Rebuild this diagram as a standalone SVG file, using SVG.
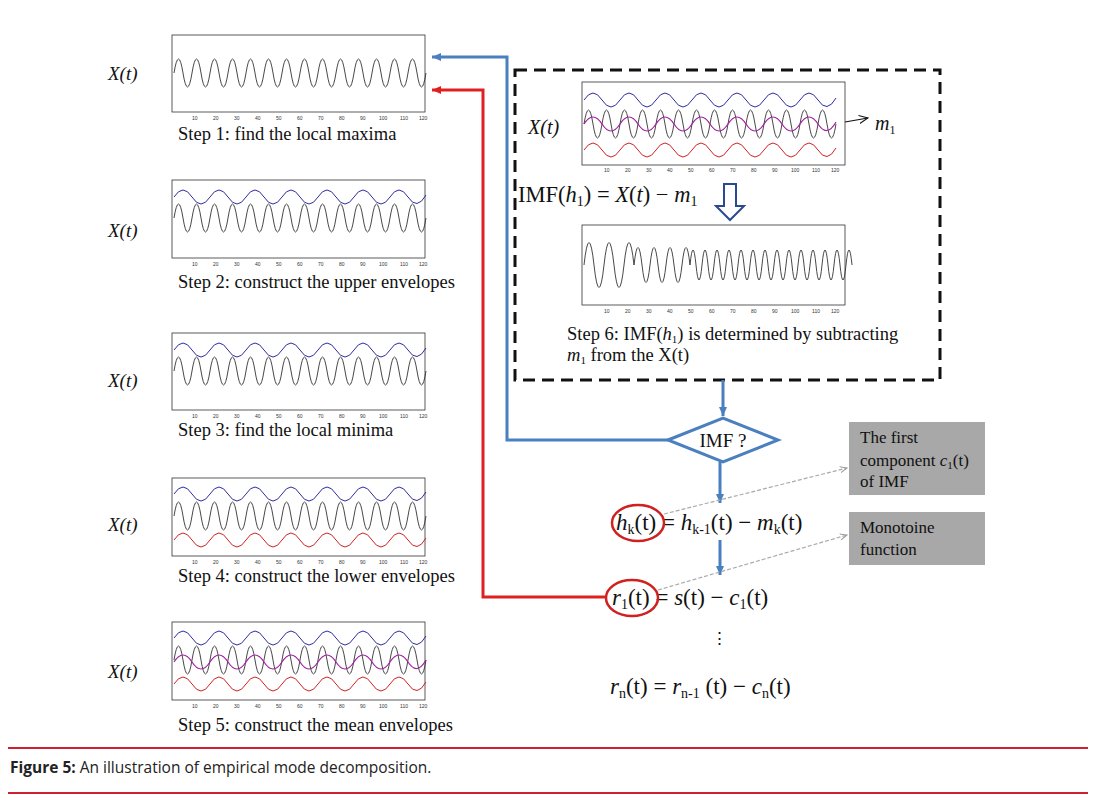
<svg xmlns="http://www.w3.org/2000/svg" width="1102" height="805" viewBox="0 0 1102 805">
<defs>
<style>
.t{font-family:"Liberation Serif",serif;fill:#111}
.s{font-family:"Liberation Sans",sans-serif;font-size:5px;fill:#333}
.box{fill:#fff;stroke:#333;stroke-width:0.8}
.w{fill:none;stroke:#333;stroke-width:0.9}
.up{fill:none;stroke:#2b2ba0;stroke-width:1}
.lo{fill:none;stroke:#d02020;stroke-width:1}
.me{fill:none;stroke:#a020a0;stroke-width:1.2}
.gb{fill:#a8a8a8}
</style>
<marker id="ab" markerWidth="10" markerHeight="10" refX="9" refY="5" orient="auto" markerUnits="userSpaceOnUse"><path d="M0,1 L9,5 L0,9 z" fill="#4a7fc0"/></marker>
<marker id="ar" markerWidth="10" markerHeight="10" refX="9" refY="5" orient="auto" markerUnits="userSpaceOnUse"><path d="M0,1 L9,5 L0,9 z" fill="#e02020"/></marker>
<marker id="ag" markerWidth="8" markerHeight="8" refX="7" refY="4" orient="auto" markerUnits="userSpaceOnUse"><path d="M0,1 L7,4 L0,7" fill="none" stroke="#999"/></marker>
<marker id="ak" markerWidth="10" markerHeight="10" refX="9" refY="5" orient="auto" markerUnits="userSpaceOnUse"><path d="M0,1 L9,5 L0,9" fill="none" stroke="#111"/></marker>
<path id="wave" d="M0,0 q4.5,-28 9,0 t9,0 t9,0 t9,0 t9,0 t9,0 t9,0 t9,0 t9,0 t9,0 t9,0 t9,0 t9,0 t9,0 t9,0 t9,0 t9,0 t9,0 t9,0 t9,0 t9,0 t9,0 t9,0 t9,0 t9,0 t9,0 t9,0 t9,0"/>
<path id="env" d="M0,0 q9,-14 18,0 t18,0 t18,0 t18,0 t18,0 t18,0 t18,0 t18,0 t18,0 t18,0 t18,0 t18,0 t18,0 t18,-2"/>
<g id="ticks"><text class="s" x="20" y="0">10</text><text class="s" x="41" y="0">20</text><text class="s" x="62" y="0">30</text><text class="s" x="83" y="0">40</text><text class="s" x="104" y="0">50</text><text class="s" x="125" y="0">60</text><text class="s" x="146" y="0">70</text><text class="s" x="167" y="0">80</text><text class="s" x="188" y="0">90</text><text class="s" x="207" y="0">100</text><text class="s" x="228" y="0">110</text><text class="s" x="247" y="0">120</text></g>
</defs>
<rect width="1102" height="805" fill="#fff"/>

<g id="step1">
<text class="t" x="108" y="80" font-size="19" font-style="italic">X(t)</text>
<rect class="box" x="172" y="35" width="253" height="77"/>
<use href="#wave" class="w" x="174" y="73"/>
<use href="#ticks" x="172" y="120"/>
<text class="t" x="178" y="140" font-size="18.5">Step 1: find the local maxima</text>
</g>
<g id="step2">
<text class="t" x="108" y="237" font-size="19" font-style="italic">X(t)</text>
<rect class="box" x="172" y="180" width="253" height="78"/>
<use href="#wave" class="w" x="174" y="218"/>
<use href="#env" class="up" x="174" y="197"/>
<use href="#ticks" x="172" y="266"/>
<text class="t" x="178" y="288" font-size="18.5">Step 2: construct the upper envelopes</text>
</g>
<g id="step3">
<text class="t" x="108" y="387" font-size="19" font-style="italic">X(t)</text>
<rect class="box" x="172" y="333" width="253" height="77"/>
<use href="#wave" class="w" x="174" y="371"/>
<use href="#env" class="up" x="174" y="350"/>
<use href="#ticks" x="172" y="418"/>
<text class="t" x="178" y="436" font-size="18.5">Step 3: find the local minima</text>
</g>
<g id="step4">
<text class="t" x="108" y="531" font-size="19" font-style="italic">X(t)</text>
<rect class="box" x="172" y="478" width="253" height="78"/>
<use href="#wave" class="w" x="174" y="516"/>
<use href="#env" class="up" x="174" y="494"/>
<use href="#env" class="lo" x="174" y="540"/>
<use href="#ticks" x="172" y="564"/>
<text class="t" x="178" y="582" font-size="18.5">Step 4: construct the lower envelopes</text>
</g>
<g id="step5">
<text class="t" x="108" y="678" font-size="19" font-style="italic">X(t)</text>
<rect class="box" x="172" y="622" width="253" height="78"/>
<use href="#wave" class="w" x="174" y="660"/>
<use href="#env" class="up" x="174" y="638"/>
<use href="#env" class="lo" x="174" y="684"/>
<use href="#env" class="me" x="174" y="662"/>
<use href="#ticks" x="172" y="708"/>
<text class="t" x="178" y="731" font-size="18.5">Step 5: construct the mean envelopes</text>
</g>

<g id="step6">
<rect x="515" y="70" width="425" height="310" fill="none" stroke="#111" stroke-width="3" stroke-dasharray="12,7"/>
<text class="t" x="528" y="134" font-size="20" font-style="italic">X(t)</text>
<rect class="box" x="582" y="82" width="263" height="83"/>
<use href="#wave" class="w" x="584" y="124"/>
<use href="#env" class="up" x="584" y="100"/>
<use href="#env" class="lo" x="584" y="150"/>
<use href="#env" class="me" x="584" y="124"/>
<use href="#ticks" x="584" y="172"/>
<text class="t" x="875" y="130" font-size="20" font-style="italic">m<tspan font-size="12" dy="4" font-style="normal">1</tspan></text>
<text class="t" x="518" y="202" font-size="22.5">IMF(<tspan font-style="italic">h</tspan><tspan font-size="14" dy="4">1</tspan><tspan dy="-4">) = </tspan><tspan font-style="italic">X</tspan>(<tspan font-style="italic">t</tspan>) − <tspan font-style="italic">m</tspan><tspan font-size="14" dy="4">1</tspan></text>
<path d="M724,184 h12 v22 h8 l-14,14 l-14,-14 h8 z" fill="#fff" stroke="#2a4a90" stroke-width="2"/>
<rect class="box" x="582" y="225" width="263" height="80"/>
<path class="w" d="M584,265 q5,-45 10,0 t10,0 t10,0 t10,0 t10,0 q4,-35 8,0 t8,0 t8,0 t8,0 t8,0 t8,0 t8,0 q3,-30 6,0 t6,0 t6,0 t6,0 t6,0 t6,0 t6,0 t6,0 t6,0 t6,0 t6,0 t6,0 t6,0 t6,0 t6,0 t6,0 t6,0 t6,0 t6,0 t6,0 t6,0 t6,0 t6,0 t6,0 t6,0 t6,0 t6,0"/>
<use href="#ticks" x="584" y="313"/>
<text class="t" x="567" y="340" font-size="18.5">Step 6: IMF(<tspan font-style="italic">h</tspan><tspan font-size="11" dy="3">1</tspan><tspan dy="-3">) is determined by subtracting</tspan></text>
<text class="t" x="567" y="361" font-size="18.5"><tspan font-style="italic">m</tspan><tspan font-size="11" dy="3">1</tspan><tspan dy="-3"> from the X(t)</tspan></text>
</g>

<g id="imf">
<path d="M668,440 L723,418 L778,440 L723,462 z" fill="#fff" stroke="#4a7fc0" stroke-width="3"/>
<text class="t" x="723" y="447" font-size="19" text-anchor="middle">IMF ?</text>
</g>
<g id="hk">
<text class="t" x="616" y="530" font-size="23"><tspan font-style="italic">h</tspan><tspan font-size="14" dy="4">k</tspan><tspan dy="-4">(t) = </tspan><tspan font-style="italic">h</tspan><tspan font-size="14" dy="4">k-1</tspan><tspan dy="-4">(t) − </tspan><tspan font-style="italic">m</tspan><tspan font-size="14" dy="4">k</tspan><tspan dy="-4">(t)</tspan></text>
<ellipse cx="638" cy="523" rx="26" ry="18" fill="none" stroke="#d02020" stroke-width="2.5"/>
</g>
<g id="r1">
<text class="t" x="612" y="605" font-size="23"><tspan font-style="italic">r</tspan><tspan font-size="14" dy="4">1</tspan><tspan dy="-4">(t) = </tspan><tspan font-style="italic">s</tspan>(t) − <tspan font-style="italic">c</tspan><tspan font-size="14" dy="4">1</tspan><tspan dy="-4">(t)</tspan></text>
<ellipse cx="632" cy="598" rx="26" ry="18" fill="none" stroke="#d02020" stroke-width="2.5"/>
<text class="t" x="711" y="644" font-size="17">⋮</text>
</g>
<g id="rn">
<text class="t" x="610" y="694" font-size="23"><tspan font-style="italic">r</tspan><tspan font-size="14" dy="4">n</tspan><tspan dy="-4">(t) = </tspan><tspan font-style="italic">r</tspan><tspan font-size="14" dy="4">n-1</tspan><tspan dy="-4"> (t) − </tspan><tspan font-style="italic">c</tspan><tspan font-size="14" dy="4">n</tspan><tspan dy="-4">(t)</tspan></text>
</g>
<g id="box1">
<rect class="gb" x="849" y="422" width="136" height="73"/>
<text class="t" x="860" y="443" font-size="17">The first</text>
<text class="t" x="860" y="466" font-size="17">component <tspan font-style="italic">c</tspan><tspan font-size="11" dy="3">1</tspan><tspan dy="-3">(t)</tspan></text>
<text class="t" x="860" y="487" font-size="17">of  IMF</text>
</g>
<g id="box2">
<rect class="gb" x="849" y="512" width="136" height="53"/>
<text class="t" x="860" y="533" font-size="17">Monotoine</text>
<text class="t" x="860" y="555" font-size="17">function</text>
</g>

<g id="connectors">
<path d="M668,440 H507 V57 H432" fill="none" stroke="#4a7fc0" stroke-width="3" marker-end="url(#ab)"/>
<path d="M606,597 H483 V90 H432" fill="none" stroke="#e02020" stroke-width="3" marker-end="url(#ar)"/>
<path d="M723,380 V416" fill="none" stroke="#4a7fc0" stroke-width="3" marker-end="url(#ab)"/>
<path d="M720,462 V503" fill="none" stroke="#4a7fc0" stroke-width="3" marker-end="url(#ab)"/>
<path d="M720,540 V575" fill="none" stroke="#4a7fc0" stroke-width="3" marker-end="url(#ab)"/>
<path d="M664,514 L847,468" fill="none" stroke="#aaa" stroke-width="1.2" stroke-dasharray="4,2" marker-end="url(#ag)"/>
<path d="M658,590 L847,535" fill="none" stroke="#aaa" stroke-width="1.2" stroke-dasharray="4,2" marker-end="url(#ag)"/>
<path d="M845,122 L868,118" fill="none" stroke="#111" stroke-width="1.2" marker-end="url(#ak)"/>
</g>

<g id="caption">
<line x1="8" y1="748" x2="1088" y2="748" stroke="#d02030" stroke-width="2"/>
<text x="10" y="773" font-family="Open Sans, sans-serif" font-size="15.5" fill="#222"><tspan font-weight="bold">Figure 5:</tspan> An illustration of empirical mode decomposition.</text>
<line x1="8" y1="793" x2="1088" y2="793" stroke="#d02030" stroke-width="2"/>
</g>
</svg>
